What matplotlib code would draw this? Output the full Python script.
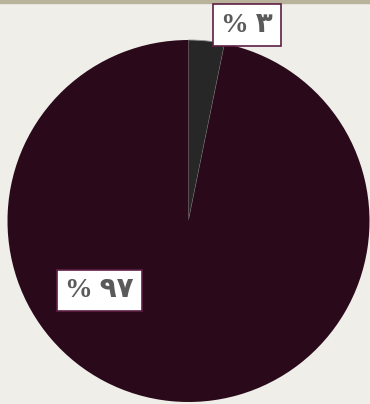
import matplotlib
matplotlib.use("Agg")
import matplotlib.pyplot as plt

categories = ["A", "B"]
values = [3.2, 96.8]
labels = ["% ٣", "% ٩٧"]
colors = ["#272727", "#2a0a1a"]

W, H = 370, 404
fig = plt.figure(figsize=(W / 100, H / 100), dpi=100)
fig.patch.set_facecolor("#efeee9")
ax = fig.add_axes([0, 0, 1, 1])
ax.set_facecolor("#efeee9")

cx, cy, R = 188.5, 221, 181
# thin decorative top strip
ax.axhspan(cy / R - 3 / R, cy / R, color="#b9b39c", zorder=0)

wedges, _ = ax.pie(values, colors=colors, startangle=90, counterclock=False,
                   radius=1, center=(0, 0), frame=True,
                   wedgeprops=dict(linewidth=0))
wedges[0].set_edgecolor("#8f8f8f")
wedges[0].set_linewidth(0.6)
ax.set_xlim(-cx / R, (W - cx) / R)
ax.set_ylim((cy - H) / R, cy / R)
ax.axis("off")

label_pos = [(247, 25), (99.5, 290.5)]
for (px, py), t in zip(label_pos, labels):
    ax.text((px - cx) / R, (cy - py) / R, t, ha="center", va="center",
            fontsize=20, fontweight="bold",
            color="#5a5a5a", family=["Liberation Serif", "DejaVu Sans"],
            bbox=dict(boxstyle="square,pad=0.3", facecolor="white",
                      edgecolor="#5e1f45", linewidth=1.2), zorder=5)

fig.savefig("out.png", dpi=100, facecolor=fig.get_facecolor())
